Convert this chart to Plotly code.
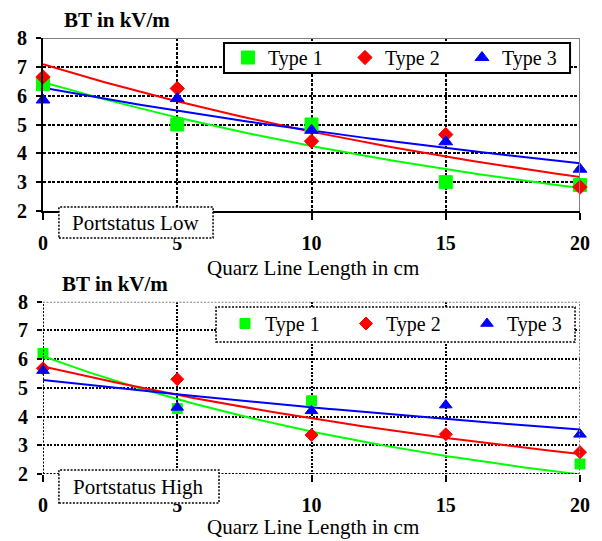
import numpy as np
import plotly.graph_objects as go

# Quartz line length (cm) on the x axis
length_cm = [0, 5, 10, 15, 20]
series_names = ["Type 1", "Type 2", "Type 3"]

# Breakdown threshold BT in kV/m, port status low
low_type1 = [6.4, 5.0, 5.0, 3.0, 2.9]
low_type2 = [6.65, 6.25, 4.42, 4.65, 2.83]
low_type3 = [5.85, 5.9, 4.8, 4.4, 3.45]

# Breakdown threshold BT in kV/m, port status high
high_type1 = [6.2, 4.28, 4.55, 1.8, 2.35]
high_type2 = [5.68, 5.3, 3.36, 3.38, 2.76]
high_type3 = [5.6, 4.32, 4.2, 4.4, 3.38]

x_ticks = [0, 5, 10, 15, 20]
y_ticks = [2, 3, 4, 5, 6, 7, 8]
y_range = [2, 8]

colors = ["#00FF00", "#FF0000", "#0000FF"]
SERIF = "Liberation Serif, Times New Roman, serif"

W, H = 602, 541
ML, MR, MT, MB = 43, 19, 38, 67
PW, PH = W - ML - MR, H - MT - MB


def px(x):
    return (x - ML) / PW


def py(y):
    return (H - MB - y) / PH


def exp_trend(x, y):
    """Exponential least-squares trendline y = a*exp(b*x)."""
    b, ln_a = np.polyfit(np.asarray(x, float), np.log(np.asarray(y, float)), 1)
    xs = np.linspace(min(x), max(x), 121)
    return xs, np.exp(ln_a) * np.exp(b * xs)


def in_range(vals):
    return [v if y_range[0] <= v <= y_range[1] else None for v in vals]


fig = go.Figure()

panels = [
    ("x", "y", "legend", [low_type1, low_type2, low_type3],
     [dict(symbol="square", size=13), dict(symbol="diamond", size=11),
      dict(symbol="triangle-up", size=12)]),
    ("x2", "y2", "legend2", [high_type1, high_type2, high_type3],
     [dict(symbol="square", size=10), dict(symbol="diamond", size=10),
      dict(symbol="triangle-up", size=11)]),
]

for xa, ya, leg, data, markers in panels:
    # trendlines first, markers on top
    for vals, c in zip(data, colors):
        tx, ty = exp_trend(length_cm, vals)
        fig.add_trace(go.Scatter(x=tx, y=ty, mode="lines", xaxis=xa, yaxis=ya,
                                 line=dict(color=c, width=2), showlegend=False,
                                 hoverinfo="skip"))
    for name, vals, c, m in zip(series_names, data, colors, markers):
        fig.add_trace(go.Scatter(x=length_cm, y=in_range(vals), mode="markers",
                                 name=name, xaxis=xa, yaxis=ya, legend=leg,
                                 cliponaxis=False,
                                 marker=dict(color=c, line=dict(color=c, width=1), **m)))

tick_font = dict(family=SERIF, size=20, color="black")

common_x = dict(range=[0, 20], tickvals=x_ticks,
                ticktext=[f"<b>{v}</b>" for v in x_ticks],
                ticks="outside", ticklen=7,
                tickwidth=2, tickcolor="black", tickfont=tick_font,
                ticklabelstandoff=6, zeroline=False, gridcolor="black")
common_y = dict(range=y_range, tickvals=y_ticks,
                ticktext=[f"<b>{v}</b>" for v in y_ticks],
                ticks="outside", ticklen=5,
                tickwidth=2, tickcolor="black", tickfont=tick_font,
                ticklabelstandoff=5, zeroline=False, gridcolor="black")

fig.update_layout(
    width=W, height=H,
    margin=dict(l=ML, r=MR, t=MT, b=MB),
    paper_bgcolor="white", plot_bgcolor="white",
    font=dict(family=SERIF, color="black"),
    xaxis=dict(anchor="y", showline=True, linecolor="black", linewidth=2,
               griddash="3px,1.5px", gridwidth=1.5, **common_x),
    yaxis=dict(domain=[py(211), 1], anchor="x", showline=True, linecolor="black",
               linewidth=2, griddash="3px,1.5px", gridwidth=1.5, **common_y),
    xaxis2=dict(anchor="y2", showline=False, griddash="2px,1.5px", gridwidth=1.5,
                **common_x),
    yaxis2=dict(domain=[0, py(301.7)], anchor="x2", showline=False,
                griddash="2px,1.5px", gridwidth=1.5, **common_y),
    legend=dict(orientation="h", x=px(229), y=py(38), xanchor="left", yanchor="top",
                bgcolor="rgba(0,0,0,0)", borderwidth=0, entrywidth=72,
                font=dict(family=SERIF, size=20, color="black")),
    legend2=dict(orientation="h", x=px(226), y=py(304), xanchor="left", yanchor="top",
                 bgcolor="rgba(0,0,0,0)", borderwidth=0, entrywidth=76,
                 font=dict(family=SERIF, size=20, color="black")),
)

shapes = [
    # upper panel: grey frame on top and right
    dict(type="line", xref="x", yref="y", x0=0, x1=20, y0=8, y1=8,
         line=dict(color="#808080", width=2)),
    dict(type="line", xref="x", yref="y", x0=20, x1=20, y0=2, y1=8,
         line=dict(color="#808080", width=2)),
    # lower panel: dotted axes and frame
    dict(type="line", xref="x2", yref="y2", x0=0, x1=0, y0=2, y1=8,
         line=dict(color="black", width=2, dash="2px,1.5px")),
    dict(type="line", xref="x2", yref="y2", x0=0, x1=20, y0=2, y1=2,
         line=dict(color="black", width=2, dash="2px,1.5px")),
    dict(type="line", xref="x2", yref="y2", x0=0, x1=20, y0=8, y1=8,
         line=dict(color="#808080", width=2, dash="2px,1.5px")),
    dict(type="line", xref="x2", yref="y2", x0=20, x1=20, y0=2, y1=8,
         line=dict(color="#808080", width=2, dash="2px,1.5px")),
    # legend boxes
    dict(type="rect", xref="paper", yref="paper", x0=px(225), x1=px(573),
         y0=py(73), y1=py(43), fillcolor="white", line=dict(color="black", width=2)),
    dict(type="rect", xref="paper", yref="paper", x0=px(217), x1=px(578),
         y0=py(342), y1=py(307), fillcolor="white",
         line=dict(color="black", width=1.5, dash="2px,1.5px")),
    # port status boxes
    dict(type="rect", xref="paper", yref="paper", x0=px(59), x1=px(214),
         y0=py(238), y1=py(207), fillcolor="white",
         line=dict(color="black", width=1.5, dash="2px,1.5px")),
    dict(type="rect", xref="paper", yref="paper", x0=px(59), x1=px(220),
         y0=py(503), y1=py(470), fillcolor="white",
         line=dict(color="black", width=1.5, dash="2px,1.5px")),
]
fig.update_layout(shapes=shapes)

text_font = dict(family=SERIF, size=21, color="black")
annotations = [
    dict(text="<b>BT in kV/m</b>", x=px(62), y=py(20), xanchor="left",
         yanchor="middle", font=text_font),
    dict(text="<b>BT in kV/m</b>", x=px(60), y=py(284), xanchor="left",
         yanchor="middle", font=text_font),
    dict(text="Quarz Line Length in cm", x=px(315), y=py(268), xanchor="center",
         yanchor="middle", font=text_font),
    dict(text="Quarz Line Length in cm", x=px(315), y=py(527), xanchor="center",
         yanchor="middle", font=text_font),
    dict(text="Portstatus Low", x=px(136.5), y=py(222.5), xanchor="center",
         yanchor="middle", font=text_font),
    dict(text="Portstatus High", x=px(139.5), y=py(486.5), xanchor="center",
         yanchor="middle", font=text_font),
]
for a in annotations:
    a.update(xref="paper", yref="paper", showarrow=False)
fig.update_layout(annotations=annotations)

fig.write_html("out.html")
